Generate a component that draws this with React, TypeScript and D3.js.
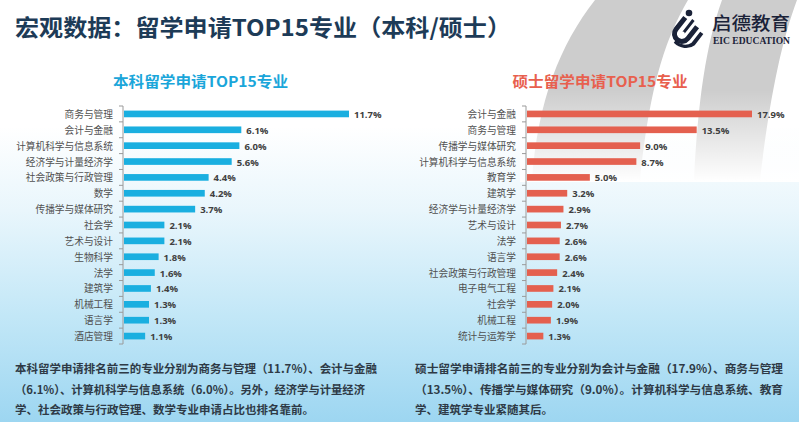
import React from "react";
import * as d3 from "d3";

const W = 799;
const H = 422;

const titleText = "宏观数据：留学申请TOP15专业（本科/硕士）";
const ugTitle = "本科留学申请TOP15专业";
const pgTitle = "硕士留学申请TOP15专业";

const ugCategories = ["商务与管理", "会计与金融", "计算机科学与信息系统", "经济学与计量经济学", "社会政策与行政管理", "数学", "传播学与媒体研究", "社会学", "艺术与设计", "生物科学", "法学", "建筑学", "机械工程", "语言学", "酒店管理"];
const ugValues = [11.7, 6.1, 6.0, 5.6, 4.4, 4.2, 3.7, 2.1, 2.1, 1.8, 1.6, 1.4, 1.3, 1.3, 1.1];

const pgCategories = ["会计与金融", "商务与管理", "传播学与媒体研究", "计算机科学与信息系统", "教育学", "建筑学", "经济学与计量经济学", "艺术与设计", "法学", "语言学", "社会政策与行政管理", "电子电气工程", "社会学", "机械工程", "统计与运筹学"];
const pgValues = [17.9, 13.5, 9.0, 8.7, 5.0, 3.2, 2.9, 2.7, 2.6, 2.6, 2.4, 2.1, 2.0, 1.9, 1.3];

const ugNotes = [
  "本科留学申请排名前三的专业分别为商务与管理（11.7%）、会计与金融",
  "（6.1%）、计算机科学与信息系统（6.0%）。另外，经济学与计量经济",
  "学、社会政策与行政管理、数学专业申请占比也排名靠前。",
];
const pgNotes = [
  "硕士留学申请排名前三的专业分别为会计与金融（17.9%）、商务与管理",
  "（13.5%）、传播学与媒体研究（9.0%）。计算机科学与信息系统、教育",
  "学、建筑学专业紧随其后。",
];

const CJK = "'Noto Sans CJK SC', 'Noto Sans', sans-serif";

type ChartProps = {
  cats: string[];
  vals: number[];
  axisX: number;
  maxX: number;
  color: string;
  title: string;
  titleColor: string;
  titleCx: number;
};

function BarChart({ cats, vals, axisX, maxX, color, title, titleColor, titleCx }: ChartProps) {
  const top = 106;
  const bottom = 344;
  const y = d3.scaleBand<string>().domain(cats).range([top, bottom]).paddingInner(0.58).paddingOuter(0.29);
  const x = d3.scaleLinear().domain([0, d3.max(vals) as number]).range([axisX + 1, maxX]);
  const ticks = d3.range(cats.length + 1).map((i) => top + i * ((bottom - top) / cats.length));
  return (
    <g>
      <text x={titleCx - 87.5} y={80.5} dominantBaseline="central" fontFamily={CJK} fontWeight={700} fontSize={14.5} fill={titleColor} textLength={175} lengthAdjust="spacingAndGlyphs">
        {title}
      </text>
      {cats.map((c, i) => {
        const yc = (y(c) as number) + y.bandwidth() / 2;
        return (
          <g key={c}>
            <rect x={x(0)} y={y(c)} width={x(vals[i]) - x(0)} height={y.bandwidth()} fill={color} />
            <text x={axisX - 10} y={yc} textAnchor="end" dominantBaseline="central" fontFamily={CJK} fontSize={9.7} fill="#505050">
              {c}
            </text>
            <text x={x(vals[i]) + 5} y={yc + 0.5} dominantBaseline="central" fontFamily="'Open Sans', 'Noto Sans', sans-serif" fontWeight={700} fontSize={9.5} fill="#404040">
              {vals[i].toFixed(1) + "%"}
            </text>
          </g>
        );
      })}
      <line x1={axisX} x2={axisX} y1={top} y2={bottom} stroke="#9a9a9a" strokeWidth={1} />
      {ticks.map((t, i) => (
        <line key={i} x1={axisX - 4} x2={axisX} y1={t} y2={t} stroke="#9a9a9a" strokeWidth={1} />
      ))}
    </g>
  );
}

export default function App() {
  return (
    <svg width={W} height={H} viewBox={`0 0 ${W} ${H}`} style={{ position: "absolute", left: 0, top: 0, display: "block" }}>
      <defs>
        <linearGradient id="bg" x1="0" y1="0" x2="0" y2="1">
          <stop offset="0" stopColor="#ffffff" />
          <stop offset="0.3" stopColor="#ffffff" />
          <stop offset="0.5" stopColor="#e9f6fc" />
          <stop offset="0.75" stopColor="#c2e7f7" />
          <stop offset="1" stopColor="#9dd6f1" />
        </linearGradient>
        <linearGradient id="fade" x1="0" y1="0" x2="0" y2="1">
          <stop offset="0" stopColor="#ffffff" stopOpacity={0} />
          <stop offset="1" stopColor="#ffffff" stopOpacity={1} />
        </linearGradient>
      </defs>
      <rect x={0} y={0} width={W} height={H} fill="url(#bg)" />
      <g fill="#cdcdcd">
        <path d="M595 0 L688 0 C665 40 650 85 640 180 L532 180 C538 100 560 45 595 0 Z" />
        <path d="M722 0 L797 0 C782 40 770 95 760 180 L694 180 C698 100 706 45 722 0 Z" />
      </g>
      <rect x={520} y={90} width={279} height={92} fill="url(#fade)" />

      <text x={15} y={26} dominantBaseline="central" fontFamily={CJK} fontWeight={700} fontSize={23} fill="#1d3b57" textLength={496} lengthAdjust="spacingAndGlyphs">
        {titleText}
      </text>

      <g fill="#1a2238">
        <circle cx={689} cy={13} r={3.3} />
        <g transform="translate(688,31) rotate(38)">
          <path d="M-13 -9 L-8 -9 L-8 6 A5 5 0 0 0 2 6 L2 -9 L7 -9 L7 6 A10 10 0 0 1 -13 6 Z" />
          <path d="M-4 -12 L-1 -12 L-1 4 A2 2 0 0 0 -4 4 Z" />
          <path d="M10 -7 L14 -7 L14 7 A16 14 0 0 1 -4 18 L-4 15 A12 11 0 0 0 10 7 Z" />
        </g>
      </g>
      <text x={712} y={21.5} dominantBaseline="central" fontFamily={CJK} fontWeight={500} fontSize={18} fill="#1a2238" textLength={78} lengthAdjust="spacingAndGlyphs">
        启德教育
      </text>
      <text x={713} y={40.5} dominantBaseline="central" fontFamily="'Liberation Serif', 'DejaVu Serif', serif" fontWeight={700} fontSize={9.5} fill="#1a2238" textLength={77} lengthAdjust="spacingAndGlyphs">
        EIC EDUCATION
      </text>

      <BarChart cats={ugCategories} vals={ugValues} axisX={123} maxX={349} color="#1aafe0" title={ugTitle} titleColor="#1aa6da" titleCx={200.5} />
      <BarChart cats={pgCategories} vals={pgValues} axisX={526} maxX={752} color="#e4604f" title={pgTitle} titleColor="#e8604e" titleCx={600} />

      {ugNotes.map((t, i) => (
        <text key={"u" + i} x={15} y={368 + i * 20.5} dominantBaseline="central" fontFamily={CJK} fontWeight={700} fontSize={11.5} fill="#2e3a46" textLength={i === 0 ? 362 : i === 1 ? 350 : undefined} lengthAdjust="spacingAndGlyphs">
          {t}
        </text>
      ))}
      {pgNotes.map((t, i) => (
        <text key={"p" + i} x={415} y={368 + i * 20.5} dominantBaseline="central" fontFamily={CJK} fontWeight={700} fontSize={11.5} fill="#2e3a46" textLength={i === 0 ? 368 : i === 1 ? 368 : undefined} lengthAdjust="spacingAndGlyphs">
          {t}
        </text>
      ))}
    </svg>
  );
}
